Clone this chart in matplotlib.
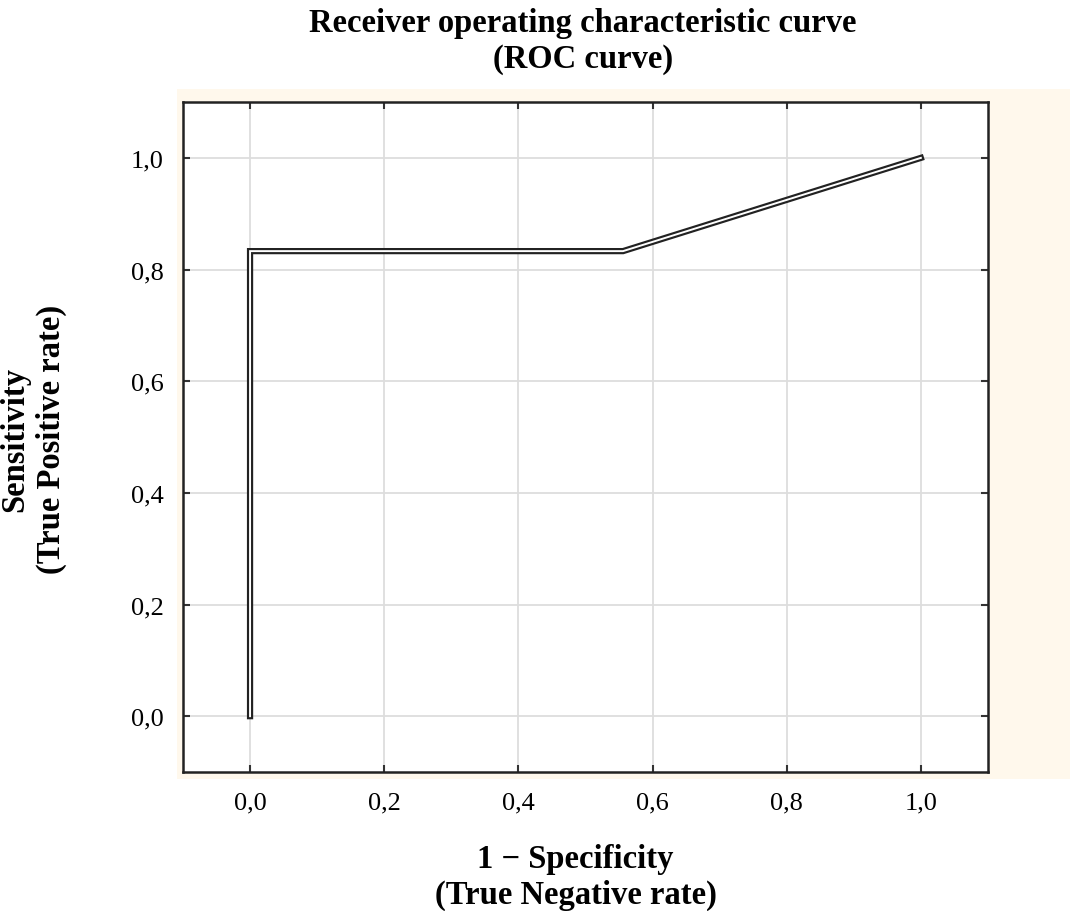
import matplotlib
matplotlib.use("Agg")
import matplotlib.pyplot as plt
from matplotlib.patches import Rectangle
from matplotlib.ticker import FuncFormatter

# Data
fpr = [0.0, 0.0, 0.556, 1.0]
tpr = [0.0, 0.833, 0.833, 1.0]
ticks = [0.0, 0.2, 0.4, 0.6, 0.8, 1.0]

title_text = "Receiver operating characteristic curve\n(ROC curve)"
xlabel_text = "1 \u2212 Specificity\n(True Negative rate)"
ylabel_text = "Sensitivity\n(True Positive rate)"

plt.rcParams['font.family'] = ['Liberation Serif', 'DejaVu Serif']

fig = plt.figure(figsize=(10.7, 9.12), dpi=100)
fig.patch.set_facecolor('white')
bg = Rectangle((0.1654, 0.1447), 0.8346, 0.7566, transform=fig.transFigure,
               facecolor='#FFF8EC', edgecolor='none', zorder=-5)
fig.patches.append(bg)

ax = fig.add_axes([0.171, 0.1524, 0.7523, 0.7346])
ax.set_zorder(2)
ax.set_facecolor('white')
ax.set_xlim(-0.1, 1.1)
ax.set_ylim(-0.1, 1.1)
ax.set_xticks(ticks)
ax.set_yticks(ticks)
fmt = FuncFormatter(lambda v, p: f"{v:.1f}".replace('.', ','))
ax.xaxis.set_major_formatter(fmt)
ax.yaxis.set_major_formatter(fmt)
ax.grid(True, color='#DDDDDD', linewidth=1.3)
ax.set_axisbelow(True)
ax.tick_params(direction='in', length=5, width=1.5, color='#333333',
               top=True, right=True, labelsize=19, pad=14)
for s in ax.spines.values():
    s.set_linewidth(1.8)
    s.set_color('#222222')

ax.plot(fpr, tpr, color='#222222', linewidth=4.5, solid_joinstyle='miter', zorder=3)
ax.plot(fpr, tpr, color='white', linewidth=1.4, solid_joinstyle='miter', zorder=4)

fig.text(0.545, 0.955, title_text, ha='center', va='center', fontsize=23.5,
         fontweight='bold', linespacing=1.2)
fig.text(0.538, 0.038, xlabel_text, ha='center', va='center', fontsize=23.5,
         fontweight='bold', linespacing=1.2)
fig.text(0.031, 0.518, ylabel_text, ha='center', va='center', fontsize=23.5,
         fontweight='bold', linespacing=1.2, rotation=90)

fig.savefig('out.png', dpi=100)
